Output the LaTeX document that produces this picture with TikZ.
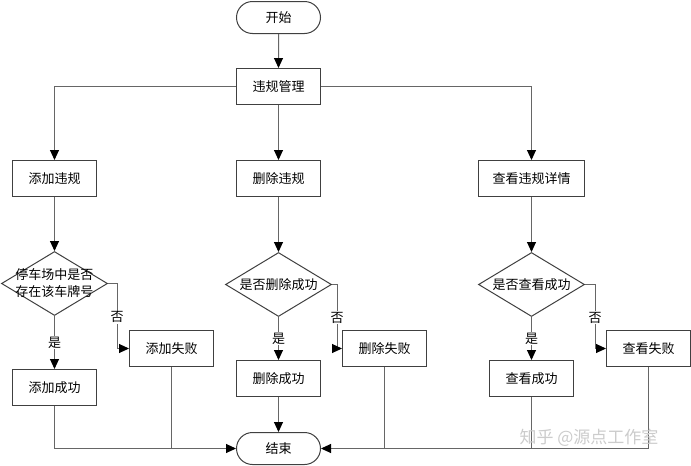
\documentclass[tikz,border=0pt]{standalone}
\usepackage{fontspec}
\setmainfont{Noto Sans CJK SC}
\usetikzlibrary{arrows.meta,shapes.geometric,shapes.misc}
\begin{document}
\begin{tikzpicture}[x=1pt,y=-1pt,
  txt/.style={font=\fontsize{13}{17}\selectfont},
  box/.style={txt, draw=black!75, line width=1pt, minimum width=84pt, minimum height=36pt, inner sep=0pt},
  term/.style={box, rounded rectangle, minimum height=32pt},
  dec/.style={draw=black!75, line width=1pt, diamond, inner sep=0pt, minimum width=106pt, minimum height=64pt},
  dlab/.style={txt, align=center},
  conn/.style={draw=black!60, line width=1pt},
  arr/.style={conn, -{Triangle[length=10pt,width=9pt,color=black]}},
  lab/.style={txt, fill=white, inner sep=1pt},
]
\fill[white] (0,0) rectangle (691,466);
\useasboundingbox (0,0) rectangle (691,466);

\node[term] (start) at (278.5,17.5) {开始};
\node[box] (mgmt) at (278.5,86.5) {违规管理};
\node[box] (add) at (54.5,178.5) {添加违规};
\node[box] (del) at (278.5,178.5) {删除违规};
\node[box, minimum width=106pt] (view) at (531.5,178.5) {查看违规详情};

\node[dec] (d1) at (54.5,283.5) {};
\node[dlab] (d1t) at (d1.center) {停车场中是否\\存在该车牌号};
\node[dec] (d2) at (278.5,284.5) {};
\node[dlab] (d2t) at (d2.center) {是否删除成功};
\node[dec] (d3) at (531.5,284.5) {};
\node[dlab] (d3t) at (d3.center) {是否查看成功};

\node[box] (addfail) at (171.5,348.5) {添加失败};
\node[box] (delfail) at (384.5,348.5) {删除失败};
\node[box] (viewfail) at (648.5,348.5) {查看失败};
\node[box] (addok) at (54.5,387.5) {添加成功};
\node[box] (delok) at (278.5,378.5) {删除成功};
\node[box] (viewok) at (531.5,378.5) {查看成功};
\node[term] (end) at (278.5,448.5) {结束};

\draw[arr] (start) -- (mgmt);
\draw[arr] (mgmt.west) -| (add.north);
\draw[arr] (mgmt) -- (del);
\draw[arr] (mgmt.east) -| (view.north);
\draw[arr] (add) -- (d1);
\draw[arr] (del) -- (d2);
\draw[arr] (view) -- (d3);

\draw[arr] (d1.south) -- node[lab] {是} (addok.north);
\draw[arr] (d2.south) -- node[lab] {是} (delok.north);
\draw[arr] (d3.south) -- node[lab] {是} (viewok.north);

\draw[arr] (d1.east) -- ++(9,0) |- node[lab, pos=0.26] {否} (addfail.west);
\draw[arr] (d2.east) -- ++(5,0) |- node[lab, pos=0.26] {否} (delfail.west);
\draw[arr] (d3.east) -- ++(10,0) |- node[lab, pos=0.26] {否} (viewfail.west);

\draw[arr] (addok.south) |- (end.west);
\draw[conn] (addfail.south) -- (addfail.south |- end.west);
\draw[arr] (delok) -- (end);
\draw[arr] (viewok.south) |- (end.east);
\draw[conn] (delfail.south) -- (delfail.south |- end.east);
\draw[conn] (viewfail.south) |- (viewok.south |- end.east);

\node[text=black!20, font=\fontsize{17}{17}\selectfont] (wm) at (589,438) {知乎 @源点工作室};
\end{tikzpicture}
\end{document}
